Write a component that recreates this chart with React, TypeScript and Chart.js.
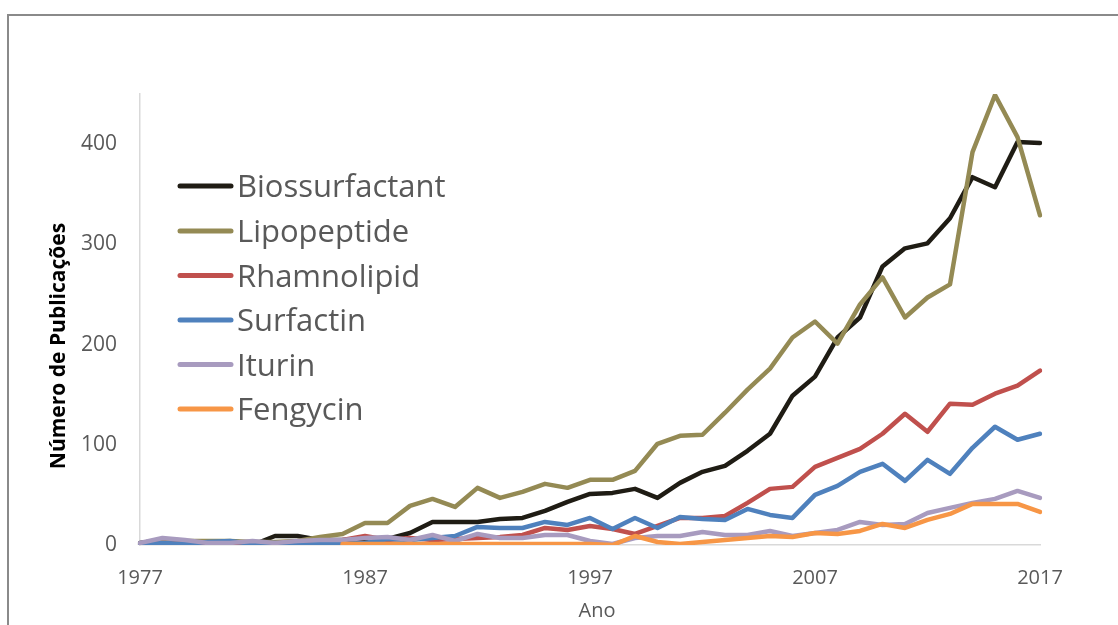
import React, { useEffect, useRef } from "react";
import { Chart, registerables } from "chart.js";

Chart.register(...registerables);

const YEARS: number[] = Array.from({ length: 41 }, (_, i) => 1977 + i);
const LABELS: string[] = YEARS.map(String);

const BIOSSURFACTANT: number[] = [
  2, 5, 3, 2, 1, 0, 9, 9, 5, 5, 6, 6, 12, 23, 23, 23, 26, 27, 34, 43,
  51, 52, 56, 47, 62, 73, 79, 94, 111, 149, 168, 207, 227, 278, 296, 301, 326, 367, 357, 402, 401,
];
const LIPOPEPTIDE: number[] = [
  1, 5, 4, 4, 4, 3, 3, 4, 8, 11, 22, 22, 39, 46, 38, 57, 47, 53, 61, 57,
  65, 65, 74, 101, 109, 110, 132, 155, 176, 207, 223, 201, 240, 267, 227, 247, 260, 392, 449, 407, 329,
];
const RHAMNOLIPID: number[] = [
  0, 2, 1, 0, 0, 1, 1, 2, 3, 5, 9, 5, 7, 5, 6, 7, 8, 10, 17, 15,
  19, 16, 11, 19, 27, 27, 29, 42, 56, 58, 78, 87, 96, 111, 131, 113, 141, 140, 151, 159, 174,
];
const SURFACTIN: number[] = [
  0, 2, 1, 3, 4, 1, 2, 0, 1, 1, 2, 6, 5, 7, 9, 18, 17, 17, 23, 20,
  27, 16, 27, 17, 28, 26, 25, 36, 30, 27, 50, 59, 73, 81, 64, 85, 71, 97, 118, 105, 111,
];
const ITURIN: number[] = [
  2, 7, 5, 2, 2, 4, 2, 4, 5, 5, 7, 8, 5, 10, 4, 11, 7, 7, 10, 10,
  4, 1, 7, 9, 9, 13, 10, 10, 14, 9, 12, 15, 23, 20, 21, 32, 37, 42, 46, 54, 47,
];
const FENGYCIN: (number | null)[] = [
  null, null, null, null, null, null, null, null, null, 1, 1, 1, 1, 1, 1, 1, 1, 1, 1, 1,
  1, 0, 9, 3, 1, 3, 5, 7, 9, 8, 12, 11, 14, 21, 17, 25, 31, 41, 41, 41, 33,
];

const SERIES_NAMES: string[] = ["Biossurfactant", "Lipopeptide", "Rhamnolipid", "Surfactin", "Iturin", "Fengycin"];
const SERIES_COLORS: string[] = ["#1f1c14", "#948a54", "#c0504d", "#4f81bd", "#a89bbf", "#f79646"];
const SERIES_DATA = [BIOSSURFACTANT, LIPOPEPTIDE, RHAMNOLIPID, SURFACTIN, ITURIN, FENGYCIN];
const Y_TICKS: number[] = [0, 100, 200, 300, 400];

const FONT = "'Open Sans', 'Noto Sans', sans-serif";
const GRAY = "#595959";

const decorPlugin = {
  id: "decor",
  afterDraw(chart: any) {
    const ctx = chart.ctx as CanvasRenderingContext2D;
    ctx.save();
    // outer frame
    ctx.strokeStyle = "#8a8a8a";
    ctx.lineWidth = 2;
    ctx.strokeRect(8, 15, 1300, 1000);

    // legend
    const rowY = [186, 231, 275.5, 320, 364.5, 409];
    chart.data.datasets.forEach((ds: any, i: number) => {
      const y = rowY[i];
      ctx.strokeStyle = ds.borderColor;
      ctx.lineWidth = 5;
      ctx.lineCap = "round";
      ctx.beginPath();
      ctx.moveTo(180, y);
      ctx.lineTo(231, y);
      ctx.stroke();
      ctx.fillStyle = GRAY;
      ctx.font = `31px ${FONT}`;
      ctx.textAlign = "left";
      ctx.textBaseline = "alphabetic";
      ctx.fillText(ds.label, 237, y + 11);
    });

    // y title
    ctx.save();
    ctx.translate(59, 346);
    ctx.rotate(-Math.PI / 2);
    ctx.fillStyle = "#000000";
    ctx.font = `bold 21px ${FONT}`;
    ctx.textAlign = "center";
    ctx.textBaseline = "middle";
    ctx.fillText("Número de Publicações", 0, 0);
    ctx.restore();

    // x title
    ctx.fillStyle = GRAY;
    ctx.font = `20px ${FONT}`;
    ctx.textAlign = "center";
    ctx.textBaseline = "middle";
    ctx.fillText("Ano", 597, 611);
    ctx.restore();
  },
};

export default function App() {
  const ref = useRef<HTMLCanvasElement | null>(null);

  useEffect(() => {
    if (!ref.current) return;
    const datasets = SERIES_NAMES.map((name, i) => ({
      label: name,
      data: SERIES_DATA[i],
      borderColor: SERIES_COLORS[i],
      backgroundColor: SERIES_COLORS[i],
      borderWidth: 4.5,
      pointRadius: 0,
      tension: 0,
      fill: false,
      borderJoinStyle: "round" as const,
      borderCapStyle: "round" as const,
      order: SERIES_NAMES.length - i,
    }));

    const chart = new Chart(ref.current, {
      type: "line",
      data: { labels: LABELS, datasets },
      options: {
        responsive: false,
        animation: false,
        layout: { padding: { top: 94, right: 78, left: 0, bottom: 0 } },
        plugins: { legend: { display: false }, tooltip: { enabled: false } },
        scales: {
          x: {
            type: "category",
            offset: false,
            grid: { display: false, drawTicks: false },
            border: { display: true, color: "#d9d9d9", width: 1.5 },
            ticks: {
              autoSkip: false,
              maxRotation: 0,
              padding: 21,
              color: GRAY,
              font: { family: FONT, size: 20 },
              callback: (_v: any, i: number) => ((YEARS[i] - 1977) % 10 === 0 ? LABELS[i] : ""),
            },
            afterFit: (s: any) => {
              s.height = 80;
            },
          },
          y: {
            min: 0,
            max: 450,
            grid: { display: false, drawTicks: false },
            border: { display: true, color: "#d9d9d9", width: 1.5 },
            ticks: {
              stepSize: 100,
              padding: 23,
              color: GRAY,
              font: { family: FONT, size: 21 },
            },
            afterBuildTicks: (s: any) => {
              s.ticks = Y_TICKS.map((v) => ({ value: v }));
            },
            afterFit: (s: any) => {
              s.width = 140;
            },
          },
        },
      },
      plugins: [decorPlugin],
    });
    return () => chart.destroy();
  }, []);

  return (
    <div style={{ position: "fixed", left: 0, top: 0, width: 1118, height: 625, background: "#ffffff" }}>
      <canvas ref={ref} width={1118} height={625} style={{ width: 1118, height: 625, display: "block" }} />
    </div>
  );
}
